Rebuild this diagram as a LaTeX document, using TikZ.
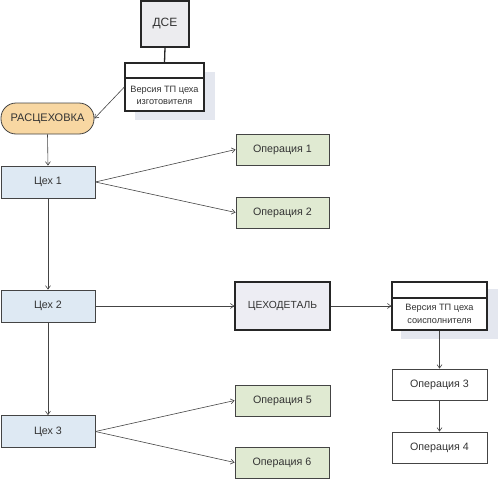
\documentclass[tikz,border=0pt]{standalone}
\usepackage{fontspec}
\setmainfont{Liberation Sans}
\usetikzlibrary{arrows.meta}
\definecolor{opgreen}{HTML}{E0EAD2}
\definecolor{cehblue}{HTML}{DEE9F3}
\definecolor{lav}{HTML}{EDEDF3}
\definecolor{dsegray}{HTML}{ECECEF}
\definecolor{orng}{HTML}{F8D7A2}
\definecolor{shad}{HTML}{E4E7EF}
\definecolor{txt}{HTML}{333333}
\definecolor{edge}{HTML}{444444}
\tikzset{
  box/.style={draw=edge, line width=0.8pt, minimum width=93pt, minimum height=31pt, inner sep=0pt, font=\fontsize{10.7}{12}\selectfont, text=txt},
  opbox/.style={box, fill=opgreen},
  whitebox/.style={box, fill=white, minimum width=95pt},
  cehbox/.style={box, fill=cehblue, minimum width=94pt, minimum height=32pt},
  heavybox/.style={draw=black!85, line width=1.3pt, inner sep=0pt, text=txt},
  conn/.style={draw=edge, line width=0.6pt, -{Straight Barb[length=3.5pt,width=5pt]}},
  vtext/.style={align=center, font=\fontsize{9.2}{12.5}\selectfont, text=txt, inner sep=0pt},
}
\begin{document}
\begin{tikzpicture}[x=1pt,y=-1pt]
\useasboundingbox (0,0) rectangle (500,479);
% shadows
\fill[shad] (135,72) rectangle (215,120);
\fill[shad] (401,289) rectangle (498,339);
% nodes
\node[heavybox, fill=dsegray, minimum width=48pt, minimum height=46pt, font=\fontsize{12}{14}\selectfont] (dse) at (165,24) {ДСЕ};
\node[heavybox, fill=white, minimum width=79pt, minimum height=48pt] (ver1) at (164.5,87) {};
\draw[black!85, line width=1.1pt] (125,78) -- (204,78);
\node[vtext] (ver1t) at (164.5,95.5) {Версия ТП цеха\\изготовителя};
\node[draw=edge, line width=0.8pt, fill=orng, rounded corners=15pt, minimum width=93pt, minimum height=31pt, inner sep=0pt, font=\fontsize{11}{12}\selectfont, text=txt] (ras) at (47.5,118.5) {РАСЦЕХОВКА};
\node[cehbox] (c1) at (48,182) {Цех 1};
\node[cehbox] (c2) at (48,306) {Цех 2};
\node[cehbox] (c3) at (48,431.5) {Цех 3};
\node[opbox] (op1) at (282.5,149.5) {Операция 1};
\node[opbox] (op2) at (282.5,212.5) {Операция 2};
\node[opbox, minimum width=95pt] (op5) at (282.5,400.5) {Операция 5};
\node[opbox, minimum width=94pt] (op6) at (282,462.5) {Операция 6};
\node[heavybox, fill=lav, minimum width=95pt, minimum height=48pt, font=\fontsize{10.3}{12}\selectfont] (ced) at (282.5,306) {ЦЕХОДЕТАЛЬ};
\node[heavybox, fill=white, minimum width=95pt, minimum height=48pt] (ver2) at (439.5,306) {};
\draw[black!85, line width=1.1pt] (392,298) -- (487,298);
\node[vtext] (ver2t) at (439.5,314) {Версия ТП цеха\\соисполнителя};
\node[whitebox] (op3) at (439.5,384.5) {Операция 3};
\node[whitebox] (op4) at (439.5,447.5) {Операция 4};
% connectors
\draw[black!85, line width=1.3pt] (dse.south) -- (ver1.north);
\draw[conn] (ver1.west) -- (ras.east);
\draw[conn] (ras.south) -- (c1.north);
\draw[conn] (c1.east) -- (op1.west);
\draw[conn] (c1.east) -- (op2.west);
\draw[conn] (c1.south) -- (c2.north);
\draw[conn] (c2.south) -- (c3.north);
\draw[conn] (c2.east) -- (ced.west);
\draw[conn] (ced.east) -- (ver2.west);
\draw[conn] (ver2.south) -- (op3.north);
\draw[conn] (op3.south) -- (op4.north);
\draw[conn] (c3.east) -- (op5.west);
\draw[conn] (c3.east) -- (op6.west);
\end{tikzpicture}
\end{document}
